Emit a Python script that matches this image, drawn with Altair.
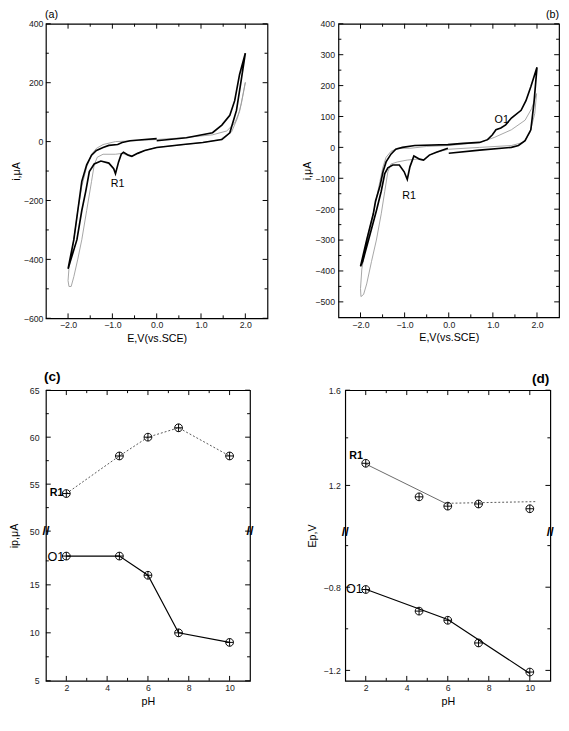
import altair as alt
import pandas as pd

FONT = "Liberation Sans"

# ---------------- data: panel (a) cyclic voltammograms ----------------
a_black_E = [0.0, -0.27, -0.60, -0.78, -0.88, -1.08, -1.21, -1.36, -1.47, -1.58, -1.69, -1.78, -1.87, -2.0,
             -1.98, -1.80, -1.69, -1.60, -1.52, -1.41, -1.26, -1.08, -0.97, -0.93, -0.86, -0.80, -0.75, -0.64,
             -0.56, -0.43, -0.27, 0.0, 0.60, 1.04, 1.47, 1.65, 1.80, 1.91, 2.0,
             1.87, 1.76, 1.65, 1.47, 1.26, 0.67, 0.0]
a_black_i = [10, 7, 3, -3, -10, -13, -20, -30, -46, -79, -135, -234, -333, -432,
             -422, -333, -234, -168, -102, -76, -66, -73, -92, -109, -69, -43, -36, -46,
             -50, -40, -30, -20, -10, -3, 7, 30, 106, 211, 300,
             228, 139, 89, 56, 30, 13, 3]
a_gray_E = [0.0, -0.49, -0.93, -1.21, -1.36, -1.47, -1.58, -1.69, -1.78, -1.87, -1.98, -2.0, -1.98,
            -1.93, -1.87, -1.78, -1.69, -1.58, -1.47, -1.41, -1.34, -1.21, -0.93, -0.78, -0.67, -0.56,
            -0.43, -0.27, 0.0, 1.04, 1.43, 1.69, 1.82, 1.91, 2.0,
            1.95, 1.87, 1.76, 1.58, 1.26, 0.60, 0.0]
a_gray_i = [7, 3, 0, -10, -23, -43, -86, -152, -234, -333, -432, -472, -492,
            -492, -459, -399, -333, -234, -135, -79, -53, -43, -43, -40, -46, -50,
            -40, -30, -20, -3, 7, 33, 79, 129, 201,
            162, 102, 63, 36, 23, 13, 7]

# ---------------- data: panel (b) cyclic voltammograms ----------------
b_black_E = [0.0, 0.70, 1.42, 1.58, 1.73, 1.86, 1.93, 2.0,
             1.86, 1.75, 1.64, 1.42, 1.29, 1.18, 1.07, 0.99, 0.88, 0.70, 0.33, -0.02, -0.77, -1.05,
             -1.20, -1.31, -1.42, -1.49, -1.56, -1.66, -1.71, -1.86, -2.0,
             -1.95, -1.80, -1.64, -1.53, -1.45, -1.38, -1.27, -1.12, -1.01, -0.94, -0.88, -0.79, -0.66,
             -0.57, -0.44, -0.28, -0.02]
b_black_i = [-19, -9, 0, 6, 22, 57, 142, 259,
             196, 151, 120, 95, 73, 63, 57, 41, 25, 16, 13, 9, 6, 0,
             -6, -22, -47, -79, -126, -174, -215, -300, -385,
             -369, -290, -205, -142, -85, -66, -57, -57, -79, -104, -63, -28, -38,
             -41, -25, -16, -3]
b_gray_E = [0.0, -0.50, -0.88, -1.16, -1.31, -1.42, -1.49, -1.56, -1.71, -1.86, -1.97, -2.0, -1.99,
            -1.93, -1.86, -1.75, -1.64, -1.53, -1.45, -1.38, -1.31, -1.16, -0.94, -0.72, -0.57, -0.44,
            -0.28, 0.0, 0.70, 1.42, 1.69, 1.84, 1.95, 1.99,
            1.88, 1.73, 1.42, 1.03, 0.70, 0.0]
b_gray_i = [6, 3, -3, -3, -13, -32, -63, -110, -215, -300, -394, -457, -483,
            -476, -442, -369, -300, -215, -142, -79, -54, -47, -41, -38, -41, -25,
            -16, -6, 0, 6, 16, 47, 110, 174,
            126, 88, 57, 32, 16, 6]

# ---------------- data: panels (c) and (d) ----------------
pH = [2, 4.6, 6, 7.5, 10]
c_R1 = [54, 58, 60, 61, 58]
c_O1 = [18, 18, 16, 10, 9]
d_R1 = [1.293, 1.152, 1.113, 1.122, 1.102]
d_O1 = [-0.811, -0.915, -0.959, -1.068, -1.208]
d_R1_fit1_pH = [2, 6]
d_R1_fit1_E = [1.29, 1.12]
d_R1_fit2_pH = [6, 10.3]
d_R1_fit2_E = [1.125, 1.132]
d_O1_fit_pH = [2, 6, 10]
d_O1_fit_E = [-0.81, -0.955, -1.215]

# axis ticks
cv_x_major = [-2, -1, 0, 1, 2]
cv_x_minor = [-1.5, -0.5, 0.5, 1.5]
a_y_major = [-600, -400, -200, 0, 200, 400]
a_y_minor = [-500, -300, -100, 100, 300]
b_y_major = [-500, -400, -300, -200, -100, 0, 100, 200, 300, 400]
b_y_minor = [-450, -350, -250, -150, -50, 50, 150, 250, 350]
ph_x_major = [2, 4, 6, 8, 10]
ph_x_minor = [3, 5, 7, 9]
c_y_major = [5, 10, 15, 50, 55, 60, 65]
c_y_minor = [7.5, 12.5, 17.5, 52.5, 57.5, 62.5]
d_y_major = [-1.2, -0.8, 1.2, 1.6]
d_y_minor = [-1.0, -0.6, 1.4]

SYMBOL = "M-1,0A1,1,0,1,1,1,0A1,1,0,1,1,-1,0ZM-1,0L1,0M0,-1L0,1"


def seq_df(xs, ys):
    return pd.DataFrame({"x": xs, "y": ys, "k": list(range(len(xs)))})


def tick_layers(X, Y, W, H, xmaj, xmin, ymaj, ymin, L=5, l=3):
    layers = []
    for vals, ln in ((xmaj, L), (xmin, l)):
        base = alt.Chart(pd.DataFrame({"x": vals})).mark_rule(color="black", strokeWidth=1)
        layers.append(base.encode(x=X, y=alt.value(H), y2=alt.value(H - ln)))
        layers.append(base.encode(x=X, y=alt.value(0), y2=alt.value(ln)))
    for vals, ln in ((ymaj, L), (ymin, l)):
        base = alt.Chart(pd.DataFrame({"y": vals})).mark_rule(color="black", strokeWidth=1)
        layers.append(base.encode(y=Y, x=alt.value(0), x2=alt.value(ln)))
        layers.append(base.encode(y=Y, x=alt.value(W), x2=alt.value(W - ln)))
    return layers


def tag_layer(text, px, py, align, fs, fw):
    return alt.Chart(pd.DataFrame({"t": [text]})).mark_text(
        font=FONT, fontSize=fs, fontWeight=fw, align=align, baseline="middle", color="black").encode(
        text="t:N", x=alt.value(px), y=alt.value(py))


def cv_panel(tag, tag_x, tag_align, W, H, ydom, ymaj, ymin, bE, bI, gE, gI, labels, lpad, tpad):
    xs = alt.Scale(domain=[-2.5, 2.5], nice=False, zero=False)
    ys = alt.Scale(domain=ydom, nice=False, zero=False)
    xax = alt.Axis(values=cv_x_major, format=".1f", labelPadding=3, titlePadding=3)
    yax = alt.Axis(values=ymaj, format="d", labelPadding=lpad, titlePadding=tpad)
    X = alt.X("x:Q", scale=xs, axis=xax, title="E,V(vs.SCE)")
    Y = alt.Y("y:Q", scale=ys, axis=yax, title="i,\u03bcA")
    gray = alt.Chart(seq_df(gE, gI)).mark_line(color="#9a9a9a", strokeWidth=0.9).encode(
        x=X, y=Y, order="k:Q")
    black = alt.Chart(seq_df(bE, bI)).mark_line(color="black", strokeWidth=1.7).encode(
        x=X, y=Y, order="k:Q")
    lab = alt.Chart(pd.DataFrame(labels)).mark_text(font=FONT, fontSize=11, color="black").encode(
        x=X, y=Y, text="t:N")
    layers = [gray, black, lab] + tick_layers(X, Y, W, H, cv_x_major, cv_x_minor, ymaj, ymin)
    layers.append(tag_layer(tag, tag_x, -9, tag_align, 11, "normal"))
    return alt.layer(*layers).properties(width=W, height=H)


def ph_panel(tag, tag_x, tag_y, tag_align, W, H, ydom, yrange, ymaj, ymin, yfmt, ytitle, series, fits,
             labels, brk, lpad, tpad):
    xs = alt.Scale(domain=[1, 11], nice=False, zero=False)
    ys = alt.Scale(domain=ydom, range=yrange, nice=False, zero=False)
    xax = alt.Axis(values=ph_x_major, format="d", labelPadding=3, titlePadding=3)
    yax = alt.Axis(values=ymaj, format=yfmt, labelPadding=lpad, titlePadding=tpad)
    X = alt.X("x:Q", scale=xs, axis=xax, title="pH")
    Y = alt.Y("y:Q", scale=ys, axis=yax, title=ytitle)
    layers = []
    for (xv, yv, color, dash, sw) in fits:
        mk = dict(color=color, strokeWidth=sw)
        if dash:
            mk["strokeDash"] = dash
        layers.append(alt.Chart(seq_df(xv, yv)).mark_line(**mk).encode(x=X, y=Y, order="k:Q"))
    for yv in series:
        layers.append(alt.Chart(seq_df(pH, yv)).mark_point(
            shape=SYMBOL, size=64, filled=False, color="black", strokeWidth=1, opacity=1).encode(x=X, y=Y))
    for lb in labels:
        d = pd.DataFrame({"x": [lb["x"]], "y": [lb["y"]], "t": [lb["t"]]})
        layers.append(alt.Chart(d).mark_text(
            font=FONT, fontSize=lb["fs"], fontWeight=lb["fw"], align="right", dx=lb["dx"], dy=lb["dy"],
            color="black").encode(x=X, y=Y, text="t:N"))
    bd = pd.DataFrame({"x": [1, 11], "y": [brk, brk]})
    layers.append(alt.Chart(bd).mark_text(text="//", font=FONT, fontSize=13, fontWeight="bold",
                                          color="black").encode(x=X, y=Y))
    layers += tick_layers(X, Y, W, H, ph_x_major, ph_x_minor, ymaj, ymin)
    layers.append(tag_layer(tag, tag_x, tag_y, tag_align, 14, "bold"))
    return alt.layer(*layers).properties(width=W, height=H)


pa = cv_panel("(a)", -1, "left", 228, 303, [-600, 400], a_y_major, a_y_minor,
              a_black_E, a_black_i, a_gray_E, a_gray_i, {"x": [-0.88], "y": [-145], "t": ["R1"]}, 3, 2)
pb = cv_panel("(b)", 227, "right", 227, 302, [-550, 400], b_y_major, b_y_minor,
              b_black_E, b_black_i, b_gray_E, b_gray_i,
              {"x": [-0.9, 1.2], "y": [-158, 88], "t": ["R1", "O1"]}, 4, 2)

pc = ph_panel("(c)", -2, -13, "left", 210, 299, [5, 20.5, 50, 65], [299, 146, 145, 0], c_y_major, c_y_minor,
              "d", "ip,\u03bcA",
              [c_R1, c_O1],
              [(pH, c_R1, "#555555", [2, 2], 1.0), (pH, c_O1, "black", None, 1.2)],
              [dict(x=2, y=54, t="R1", fs=11, fw="bold", dx=-3, dy=0),
               dict(x=2, y=18, t="O1", fs=13, fw="normal", dx=-2, dy=1)],
              50, 7, 10)
pd_ = ph_panel("(d)", 210, -11, "right", 211, 299, [-1.25, -0.535, 1.004, 1.6], [299, 146, 146, 0],
               d_y_major, d_y_minor, ".1f", "Ep,V",
               [d_R1, d_O1],
               [(d_R1_fit1_pH, d_R1_fit1_E, "#666666", None, 1.0),
                (d_R1_fit2_pH, d_R1_fit2_E, "#555555", [2, 2], 1.0),
                (d_O1_fit_pH, d_O1_fit_E, "black", None, 1.2)],
               [dict(x=2, y=1.293, t="R1", fs=11, fw="bold", dx=-3, dy=-7),
                dict(x=2, y=-0.811, t="O1", fs=13, fw="normal", dx=-3, dy=0)],
               1.0, 5, 6)

top = alt.hconcat(pa, pb, spacing=33)
bottom = alt.hconcat(pc, pd_, spacing=52)
chart = alt.vconcat(top, bottom, spacing=26).properties(
    padding={"left": 0, "top": -10, "right": 0, "bottom": 0}
).configure_view(stroke="black", strokeWidth=1.2).configure_axis(
    labelFont=FONT, titleFont=FONT, labelFontSize=9, titleFontSize=11, grid=False, domain=False,
    ticks=False, tickSize=0, labelColor="#222222", titleColor="black", titleFontWeight="normal"
)

chart.save("out.html", embed_options={"renderer": "svg", "actions": False})
